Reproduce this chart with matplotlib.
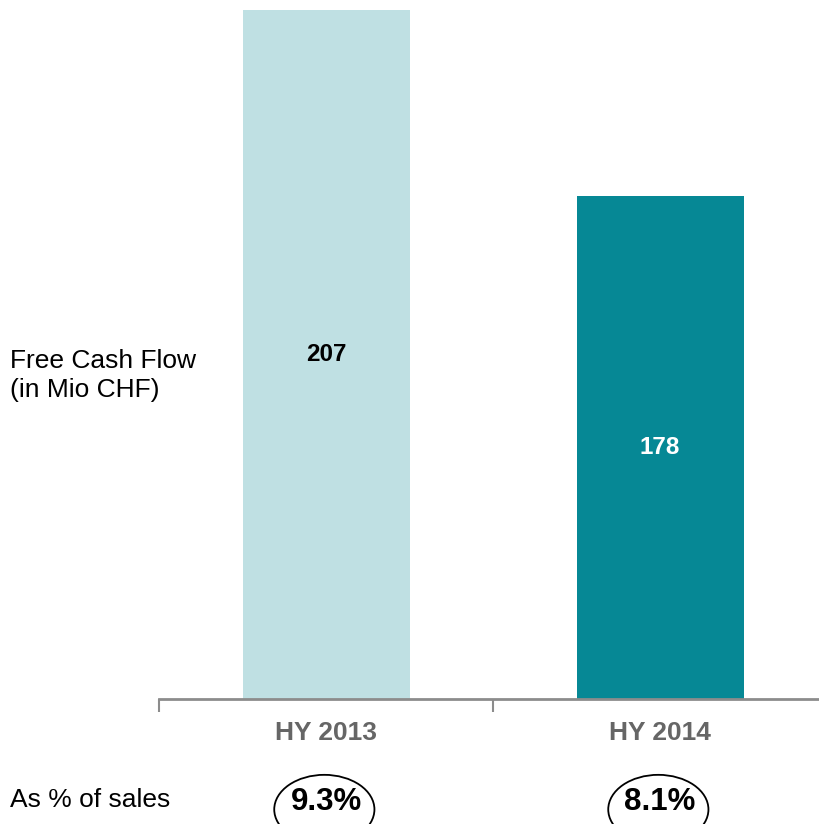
import matplotlib
matplotlib.use("Agg")
import matplotlib.pyplot as plt
from matplotlib.patches import Ellipse
import matplotlib.transforms as mtransforms

categories = ["HY 2013", "HY 2014"]
values = [207, 178]
pct_labels = ["9.3%", "8.1%"]
colors = ["#BFE0E3", "#068895"]
label_colors = ["black", "white"]

W, H = 819, 824
FONT = "Liberation Sans"
fig = plt.figure(figsize=(W / 100, H / 100), dpi=100)
ax = fig.add_axes([159 / W, 1 - 699 / H, 1 - 159 / W, 699 / H])

x = list(range(len(categories)))
ax.bar(x, values, width=0.5, color=colors, zorder=2)
ymin, ymax = 100, 208.5

for xi, v, lc in zip(x, values, label_colors):
    ax.text(xi, (ymin + v) / 2, str(v), ha="center", va="center",
            fontsize=17.5, fontweight="bold", color=lc, family=FONT)

for s in ["top", "right", "left"]:
    ax.spines[s].set_visible(False)
ax.spines["bottom"].set_color("#8C8C8C")
ax.spines["bottom"].set_linewidth(2)
ax.set_yticks([])
ax.set_xticks(x)
ax.set_xticklabels(categories, fontsize=19, fontweight="bold", color="#666666", family=FONT)
ax.tick_params(axis="x", which="major", length=0, pad=16)
ax.set_xticks([-0.5, 0.5, 1.5], minor=True)
ax.tick_params(axis="x", which="minor", length=9, width=1.5, color="#8C8C8C")
ax.set_xlim(-0.5, 1.476)
ax.set_ylim(ymin, ymax)

trans = mtransforms.blended_transform_factory(ax.transData, ax.transAxes)
for xi, p in zip(x, pct_labels):
    e = Ellipse((xi - 0.005, -0.158), width=0.30, height=0.099, transform=trans,
                facecolor="none", edgecolor="black", lw=1.3, clip_on=False)
    ax.add_artist(e)
    ax.text(xi, -0.1588, p, transform=trans, ha="center", va="baseline",
            fontsize=22.5, fontweight="bold", family=FONT)

fig.text(10 / W, 1 - 368 / H, "Free Cash Flow", ha="left", va="baseline",
         fontsize=19, family=FONT)
fig.text(10 / W, 1 - 397 / H, "(in Mio CHF)", ha="left", va="baseline",
         fontsize=19, family=FONT)
fig.text(10 / W, 1 - 807 / H, "As % of sales", ha="left", va="baseline",
         fontsize=19, family=FONT)

fig.savefig("out.png", dpi=100)
